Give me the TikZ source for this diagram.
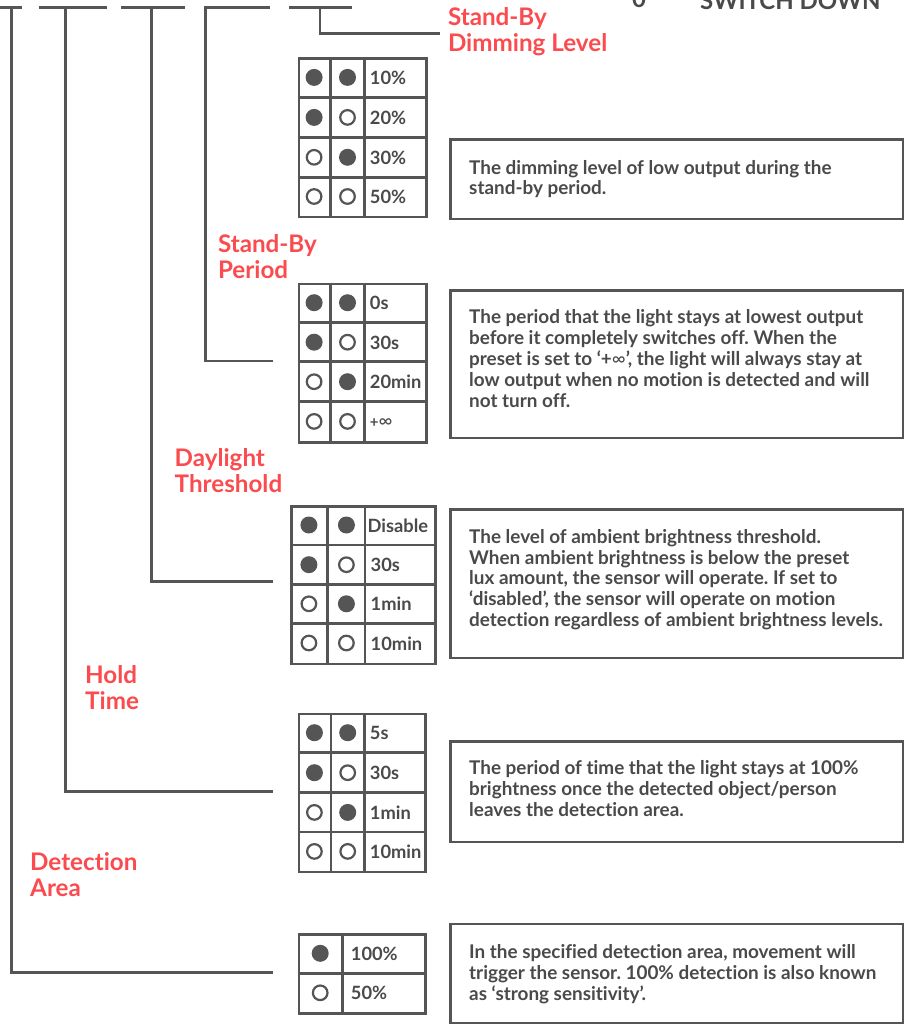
\documentclass[tikz,border=0pt]{standalone}
\usepackage{fontspec}
\setmainfont{Lato}[Ligatures=NoCommon]
\definecolor{linegray}{HTML}{555555}
\definecolor{textgray}{HTML}{4A4A4A}
\definecolor{labelred}{HTML}{FB4B4E}
\frenchspacing
\begin{document}
\begin{tikzpicture}[x=1pt,y=-1pt,
  conn/.style={draw=linegray,line width=2.8pt},
  bar/.style={draw=linegray,line width=2.8pt},
  gridline/.style={draw=linegray,line width=2.7pt},
  tabbox/.style={draw=linegray,line width=2.7pt,rectangle,inner sep=0pt,anchor=north west},
  descbox/.style={draw=linegray,line width=2.7pt,rectangle,inner sep=0pt,anchor=north west},
  lab/.style={text=labelred,font=\bfseries\fontsize{24.2}{26}\selectfont,align=left,anchor=base west,inner sep=0pt},
  desc/.style={text=textgray,font=\bfseries\fontsize{18.9}{20.9}\selectfont,align=left,anchor=base west,inner sep=0pt},
  cell/.style={text=textgray,font=\bfseries\fontsize{18.3}{18}\selectfont,anchor=base west,inner sep=0pt},
  dotfull/.style={circle,fill=linegray,minimum size=17pt,inner sep=0pt},
  dotempty/.style={circle,draw=linegray,line width=2.2pt,minimum size=14.6pt,inner sep=0pt},
  head/.style={text=textgray,font=\bfseries\fontsize{24}{26}\selectfont,anchor=base west,inner sep=0pt},
]
\useasboundingbox (0,0) rectangle (907,1024);
\fill[white] (0,0) rectangle (907,1024);

% heading (cut off at top, as in the reference)
\node[head] (zero) at (632,7.3) {0};
\node[head] (swdown) at (700,9.3) {SWITCH DOWN};

% top bar segments
\draw[bar] (0,7.5) -- (22,7.5);
\draw[bar] (39,7.5) -- (107,7.5);
\draw[bar] (121,7.5) -- (185,7.5);
\draw[bar] (204.3,7.5) -- (270,7.5);
\draw[bar] (289,7.5) -- (352,7.5);

% connector starts and free ends
\coordinate (s1) at (11.7,7.5);
\coordinate (s2) at (65.7,7.5);
\coordinate (s3) at (151.7,7.5);
\coordinate (s4) at (205.7,7.5);
\coordinate (s5) at (320,7.5);
\coordinate (e1) at (272.7,972.7);
\coordinate (e2) at (272.7,791.7);
\coordinate (e3) at (272.7,581.7);
\coordinate (e4) at (272.7,361);
\coordinate (e5) at (440,33.3);
\draw[conn] (s1) |- (e1);
\draw[conn] (s2) |- (e2);
\draw[conn] (s3) |- (e3);
\draw[conn] (s4) |- (e4);
\draw[conn] (s5) |- (e5);

% red labels (anchored at the baseline of their last line)
\node[lab] (L1) at (447.8,51.7) {Stand-By\\Dimming Level};
\node[lab] (L2) at (217.8,278.3) {Stand-By\\Period};
\node[lab] (L3) at (174.5,492.3) {Daylight\\Threshold};
\node[lab] (L4) at (85,709) {Hold\\Time};
\node[lab] (L5) at (30,896) {Detection\\Area};

% ---------- Table 1 ----------
\node[tabbox,minimum width=127.5pt,minimum height=158.4pt] (t1) at (297.5,57.3) {};
\draw[gridline] (330.7,57.3) -- (330.7,215.7) (364.2,57.3) -- (364.2,215.7);
\foreach \y in {97.5,137.3,177.3} \draw[gridline] (297.5,\y) -- (425,\y);
\node[dotfull]  (t1a1) at (314.1,77.4) {};  \node[dotfull]  (t1b1) at (347.5,77.4) {};
\node[dotfull]  (t1a2) at (314.1,117.4) {}; \node[dotempty] (t1b2) at (347.5,117.4) {};
\node[dotempty] (t1a3) at (314.1,157.3) {}; \node[dotfull]  (t1b3) at (347.5,157.3) {};
\node[dotempty] (t1a4) at (314.1,196.5) {}; \node[dotempty] (t1b4) at (347.5,196.5) {};
\node[cell] (t1v1) at (369.7,84.4) {10\%};
\node[cell] (t1v2) at (369.7,124.4) {20\%};
\node[cell] (t1v3) at (369.7,164.3) {30\%};
\node[cell] (t1v4) at (369.7,203.5) {50\%};

% ---------- Table 2 ----------
\node[tabbox,minimum width=127.5pt,minimum height=158.3pt] (t2) at (297.5,282.7) {};
\draw[gridline] (330.7,282.7) -- (330.7,441) (364.2,282.7) -- (364.2,441);
\foreach \y in {322.7,361.7,401.7} \draw[gridline] (297.5,\y) -- (425,\y);
\node[dotfull]  (t2a1) at (314.1,302.7) {}; \node[dotfull]  (t2b1) at (347.5,302.7) {};
\node[dotfull]  (t2a2) at (314.1,342.2) {}; \node[dotempty] (t2b2) at (347.5,342.2) {};
\node[dotempty] (t2a3) at (314.1,381.7) {}; \node[dotfull]  (t2b3) at (347.5,381.7) {};
\node[dotempty] (t2a4) at (314.1,421.4) {}; \node[dotempty] (t2b4) at (347.5,421.4) {};
\node[cell] (t2v1) at (369.7,309.7) {0s};
\node[cell] (t2v2) at (369.7,349.2) {30s};
\node[cell] (t2v3) at (369.7,388.7) {20min};
\node[cell,font=\bfseries\fontsize{15}{15}\selectfont] (t2v4) at (369.7,427.2) {+{\mdseries\fontsize{19}{19}\selectfont ∞}};

% ---------- Table 3 ----------
\node[tabbox,minimum width=144.3pt,minimum height=157.7pt] (t3) at (290,505) {};
\draw[gridline] (327.7,505) -- (327.7,662.7) (365,505) -- (365,662.7);
\foreach \y in {545,584.3,623.3} \draw[gridline] (290,\y) -- (434.3,\y);
\node[dotfull]  (t3a1) at (308.9,525) {};   \node[dotfull]  (t3b1) at (346.4,525) {};
\node[dotfull]  (t3a2) at (308.9,564.7) {}; \node[dotempty] (t3b2) at (346.4,564.7) {};
\node[dotempty] (t3a3) at (308.9,603.8) {}; \node[dotfull]  (t3b3) at (346.4,603.8) {};
\node[dotempty] (t3a4) at (308.9,643) {};   \node[dotempty] (t3b4) at (346.4,643) {};
\node[cell] (t3v1) at (367.5,532) {Disable};
\node[cell] (t3v2) at (370.5,571.7) {30s};
\node[cell] (t3v3) at (370.5,610.8) {1min};
\node[cell] (t3v4) at (370.5,650) {10min};

% ---------- Table 4 ----------
\node[tabbox,minimum width=126.6pt,minimum height=158pt] (t4) at (297.7,712.7) {};
\draw[gridline] (331,712.7) -- (331,870.7) (364.3,712.7) -- (364.3,870.7);
\foreach \y in {752.7,792.7,832} \draw[gridline] (297.7,\y) -- (424.3,\y);
\node[dotfull]  (t4a1) at (314.4,732.7) {}; \node[dotfull]  (t4b1) at (347.7,732.7) {};
\node[dotfull]  (t4a2) at (314.4,772.7) {}; \node[dotempty] (t4b2) at (347.7,772.7) {};
\node[dotempty] (t4a3) at (314.4,812.4) {}; \node[dotfull]  (t4b3) at (347.7,812.4) {};
\node[dotempty] (t4a4) at (314.4,851.4) {}; \node[dotempty] (t4b4) at (347.7,851.4) {};
\node[cell] (t4v1) at (369.7,739.7) {5s};
\node[cell] (t4v2) at (369.7,779.7) {30s};
\node[cell] (t4v3) at (369.7,819.4) {1min};
\node[cell] (t4v4) at (369.7,858.4) {10min};

% ---------- Table 5 ----------
\node[tabbox,minimum width=126.6pt,minimum height=79pt] (t5) at (297.7,933.3) {};
\draw[gridline] (342.7,933.3) -- (342.7,1012.3);
\draw[gridline] (297.7,973.3) -- (424.3,973.3);
\node[dotfull]  (t5a1) at (320.2,953.3) {};
\node[dotempty] (t5a2) at (320.2,992.8) {};
\node[cell] (t5v1) at (350.7,960.3) {100\%};
\node[cell] (t5v2) at (350.7,999.8) {50\%};

% ---------- description boxes ----------
\node[descbox,minimum width=452.4pt,minimum height=79.4pt] (b1) at (449.3,138.3) {};
\node[descbox,minimum width=452.4pt,minimum height=147.7pt] (b2) at (449.3,289) {};
\node[descbox,minimum width=452.4pt,minimum height=148.4pt] (b3) at (449.3,508.3) {};
\node[descbox,minimum width=452.4pt,minimum height=100.7pt] (b4) at (449.3,740) {};
\node[descbox,minimum width=452.4pt,minimum height=99.3pt] (b5) at (449.3,922.7) {};

% description texts (anchored at the baseline of their last line)
\node[desc] (d1) at (469,195) {The dimming level of low output during the\\stand-by period.};
\node[desc] (d2) at (469,407) {The period that the light stays at lowest output\\before it completely switches off. When the\\preset is set to ‘+{\mdseries ∞}’, the light will always stay at\\low output when no motion is detected and will\\not turn off.};
\node[desc] (d3) at (469,626.7) {The level of ambient brightness threshold.\\When ambient brightness is below the preset\\lux amount, the sensor will operate. If set to\\‘disabled’, the sensor will operate on motion\\detection regardless of ambient brightness levels.};
\node[desc] (d4) at (469,816.7) {The period of time that the light stays at 100\%\\brightness once the detected object/person\\leaves the detection area.};
\node[desc] (d5) at (469,1000) {In the specified detection area, movement will\\trigger the sensor. 100\% detection is also known\\as ‘strong sensitivity’.};
\end{tikzpicture}
\end{document}
